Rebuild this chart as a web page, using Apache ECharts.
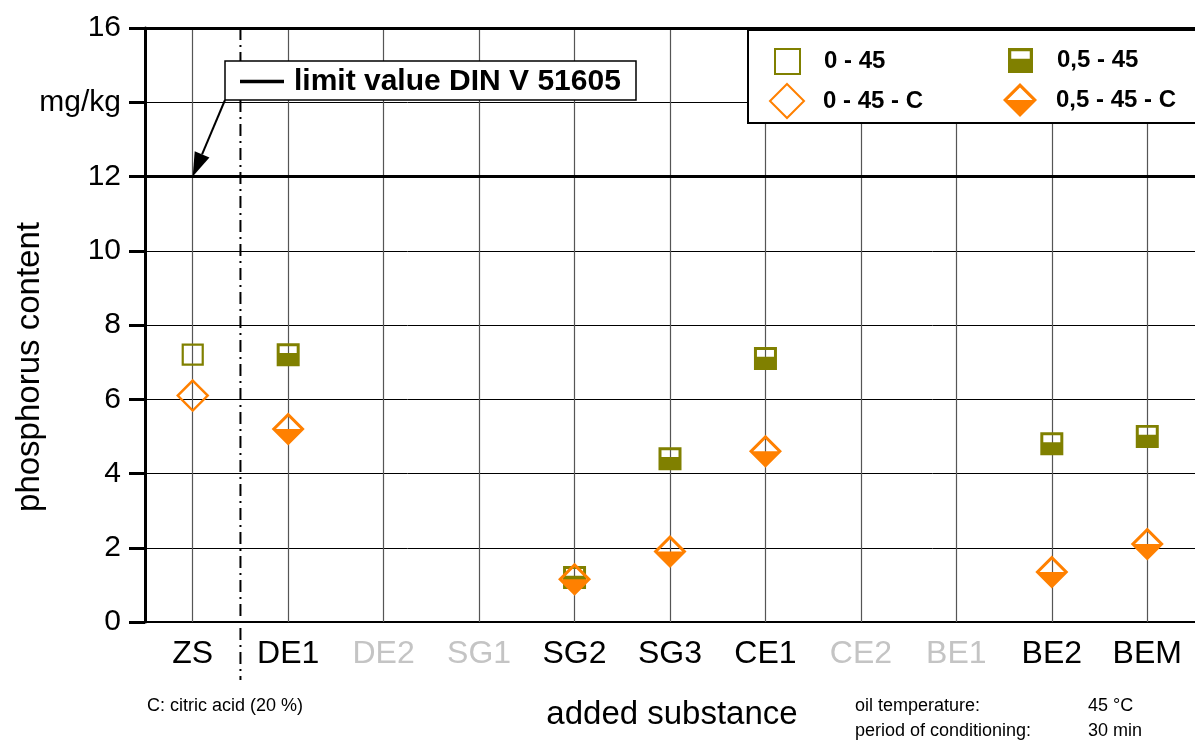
<!DOCTYPE html>
<html>
<head>
<meta charset="utf-8">
<script src="https://cdn.jsdelivr.net/npm/echarts@6/dist/echarts.min.js"></script>
<style>
html,body{margin:0;padding:0;background:#fff;}
#chart{width:1195px;height:740px;}
</style>
</head>
<body>
<div id="chart"></div>
<script>
// ---- data ----
const categories = ['ZS','DE1','DE2','SG1','SG2','SG3','CE1','CE2','BE1','BE2','BEM'];
const greyedCategories = ['DE2','SG1','CE2','BE1'];
const s_0_45     = [7.2, null, null, null, null, null, null, null, null, null, null];
const s_05_45    = [null, 7.2, null, null, 1.2, 4.4, 7.1, null, null, 4.8, 5.0];
const s_0_45_C   = [6.1, null, null, null, null, null, null, null, null, null, null];
const s_05_45_C  = [null, 5.2, null, null, 1.15, 1.9, 4.6, null, null, 1.35, 2.1];
const yTickLabels = ['0','2','4','6','8','10','12','mg/kg','16'];
const limitValue = 12;
const limitLabel = 'limit value DIN V 51605';

const FONT = '"Liberation Sans", Arial, sans-serif';
const OLIVE = '#808000';
const ORANGE = '#ff8000';

const halfSquare = 'path://M0,0 L20,0 L20,20 L0,20 Z M2.6,2.6 L2.6,8.6 L17.4,8.6 L17.4,2.6 Z';
const halfDiamond = 'path://M10,0 L20,10 L10,20 L0,10 Z M10,2.6 L2.6,10 L17.4,10 Z';

const chart = echarts.init(document.getElementById('chart'));

const vLines = categories.map(c => ({xAxis: c}));

function legendItem(name, left, top, size, pad) {
  return {
    left: left, top: top, padding: 0, orient: 'vertical', itemWidth: size, itemHeight: size,
    z: 60, selectedMode: false,
    textStyle: {fontFamily: FONT, fontSize: 24, fontWeight: 'bold', color: '#000', padding: [0, 0, 0, pad]},
    data: [name]
  };
}

const option = {
  animation: false,
  backgroundColor: '#fff',
  grid: {left: 145, top: 28, right: -6, bottom: 118, containLabel: false},
  xAxis: {
    type: 'category',
    data: categories,
    boundaryGap: true,
    axisLine: {show: true, lineStyle: {color: '#000', width: 2}},
    axisTick: {show: false},
    splitLine: {show: false},
    axisLabel: {
      fontFamily: FONT, fontSize: 32, margin: 16,
      color: (v) => greyedCategories.includes(v) ? '#c4c4c4' : '#000'
    }
  },
  yAxis: {
    type: 'value', min: 0, max: 16, interval: 2,
    axisLine: {show: true, lineStyle: {color: '#000', width: 3}},
    axisTick: {show: true, length: 16, lineStyle: {color: '#000', width: 3}},
    splitLine: {show: true, lineStyle: {color: '#000', width: 1}},
    axisLabel: {
      fontFamily: FONT, fontSize: 30, color: '#000', margin: 24,
      formatter: (v) => yTickLabels[Math.round(v / 2)]
    }
  },
  legend: [
    legendItem('0 - 45', 774, 48, 25, 19),
    legendItem('0 - 45 - C', 769, 83, 34, 14),
    legendItem('0,5 - 45', 1008, 48, 25, 19),
    legendItem('0,5 - 45 - C', 1003, 83, 34, 14)
  ],
  series: [
    {
      name: '0 - 45', type: 'scatter', z: 10, data: s_0_45,
      symbol: 'rect', symbolSize: 20,
      itemStyle: {color: 'rgba(255,255,255,0)', borderColor: OLIVE, borderWidth: 2.2, opacity: 1},
      markLine: {
        silent: true, symbol: 'none', z: 1, label: {show: false}, animation: false,
        lineStyle: {color: '#555', width: 1.2, type: 'solid'},
        data: vLines.concat([
          {yAxis: limitValue, lineStyle: {color: '#000', width: 3.2}},
          {yAxis: 16, lineStyle: {color: '#000', width: 3.2}}
        ])
      }
    },
    {
      name: '0,5 - 45', type: 'scatter', z: 11, data: s_05_45,
      symbol: halfSquare, symbolSize: 23,
      itemStyle: {color: OLIVE, opacity: 1}
    },
    {
      name: '0 - 45 - C', type: 'scatter', z: 12, data: s_0_45_C,
      symbol: 'diamond', symbolSize: [30, 30],
      itemStyle: {color: 'rgba(255,255,255,0)', borderColor: ORANGE, borderWidth: 2.4, opacity: 1}
    },
    {
      name: '0,5 - 45 - C', type: 'scatter', z: 13, data: s_05_45_C,
      symbol: halfDiamond, symbolSize: 33,
      itemStyle: {color: ORANGE, opacity: 1}
    }
  ]
};
chart.setOption(option);

// ---- annotations (positions derived from axes) ----
const x0 = chart.convertToPixel({xAxisIndex: 0}, 0);
const x1 = chart.convertToPixel({xAxisIndex: 0}, 1);
const sepX = (x0 + x1) / 2;
const yTop = chart.convertToPixel({yAxisIndex: 0}, 16);
const yLim = chart.convertToPixel({yAxisIndex: 0}, limitValue);

const boxX = 225, boxY = 61, boxW = 411, boxH = 39;
const tipX = x0, tipY = yLim;
const sx = boxX, sy = boxY + boxH;
const dx = tipX - sx, dy = tipY - sy, len = Math.hypot(dx, dy);
const ux = dx / len, uy = dy / len;
const headLen = 24, headHalf = 8;
const bx = tipX - ux * headLen, by = tipY - uy * headLen;
const px = -uy, py = ux;

chart.setOption({
  graphic: [
    // dash-dot separator
    {type: 'line', z: 20, silent: true,
     shape: {x1: sepX, y1: yTop, x2: sepX, y2: 680},
     style: {stroke: '#000', lineWidth: 2, lineDash: [12, 5, 2, 5]}},
    // legend box
    {type: 'rect', z: 50, silent: true,
     shape: {x: 748, y: 30, width: 470, height: 93},
     style: {fill: '#fff', stroke: '#000', lineWidth: 2}},
    // limit annotation box
    {type: 'rect', z: 50, silent: true,
     shape: {x: boxX, y: boxY, width: boxW, height: boxH},
     style: {fill: '#fff', stroke: '#000', lineWidth: 1.5}},
    {type: 'line', z: 51, silent: true,
     shape: {x1: 240, y1: boxY + boxH / 2 + 1, x2: 284, y2: boxY + boxH / 2 + 1},
     style: {stroke: '#000', lineWidth: 3.4}},
    {type: 'text', z: 51, silent: true, x: 294, y: boxY + boxH / 2 + 1,
     style: {text: limitLabel, font: 'bold 30px ' + FONT, fill: '#000', verticalAlign: 'middle'}},
    // arrow
    {type: 'line', z: 51, silent: true,
     shape: {x1: sx, y1: sy, x2: bx, y2: by},
     style: {stroke: '#000', lineWidth: 2}},
    {type: 'polygon', z: 51, silent: true,
     shape: {points: [[tipX, tipY], [bx + px * headHalf, by + py * headHalf], [bx - px * headHalf, by - py * headHalf]]},
     style: {fill: '#000'}},
    // y axis title
    {type: 'text', z: 51, silent: true, x: 30, y: 367, rotation: Math.PI / 2,
     style: {text: 'phosphorus content', font: '33px ' + FONT, fill: '#000', align: 'center', verticalAlign: 'middle'}},
    // x axis title
    {type: 'text', z: 51, silent: true, x: 672, y: 715,
     style: {text: 'added substance', font: '33px ' + FONT, fill: '#000', align: 'center', verticalAlign: 'middle'}},
    // notes
    {type: 'text', z: 51, silent: true, x: 147, y: 706,
     style: {text: 'C: citric acid (20 %)', font: '18px ' + FONT, fill: '#000', verticalAlign: 'middle'}},
    {type: 'text', z: 51, silent: true, x: 855, y: 706,
     style: {text: 'oil temperature:', font: '18px ' + FONT, fill: '#000', verticalAlign: 'middle'}},
    {type: 'text', z: 51, silent: true, x: 1088, y: 706,
     style: {text: '45 °C', font: '18px ' + FONT, fill: '#000', verticalAlign: 'middle'}},
    {type: 'text', z: 51, silent: true, x: 855, y: 731,
     style: {text: 'period of conditioning:', font: '18px ' + FONT, fill: '#000', verticalAlign: 'middle'}},
    {type: 'text', z: 51, silent: true, x: 1088, y: 731,
     style: {text: '30 min', font: '18px ' + FONT, fill: '#000', verticalAlign: 'middle'}}
  ]
});
</script>
</body>
</html>
